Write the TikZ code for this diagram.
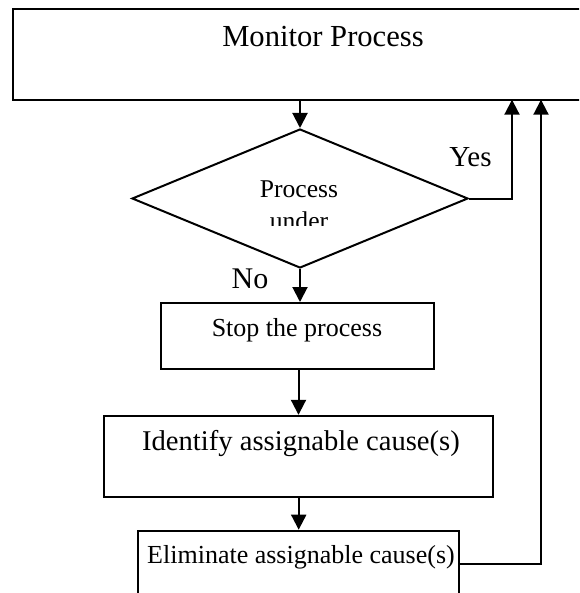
\documentclass[tikz,border=0pt]{standalone}
\usepackage{fontspec}
\setmainfont{Liberation Serif}
\usetikzlibrary{arrows.meta,shapes.geometric}
\begin{document}
\begin{tikzpicture}[x=0.5pt,y=-0.5pt,
  box/.style={draw,line width=1pt,inner sep=0pt,rectangle},
  dec/.style={draw,line width=1pt,inner sep=0pt,diamond},
  lbl/.style={inner sep=0pt,anchor=base},
  arr/.style={line width=1pt,-{Triangle[width=7.5pt,length=7.5pt]}},
  conn/.style={line width=1pt}]
\clip (0,0) rectangle (579,593);
\fill[white] (0,0) rectangle (579,593);
% boxes
\node[box,minimum width=293.5pt,minimum height=45.5pt] (mon) at (306.5,54.3) {};
\node[lbl,font=\fontsize{15.3}{18}\selectfont] (montxt) at (323,46.7) {Monitor Process};
\node[dec,minimum width=168pt,minimum height=69.5pt] (dia) at (300,198.5) {};
\begin{scope}
\clip (130,150) rectangle (470,225);
\node[lbl,font=\fontsize{12.8}{14.7}\selectfont] (diatxt) at (299,198) {Process};
\node[lbl,font=\fontsize{12.8}{14.7}\selectfont] (diatxt2) at (299,229) {under};
\end{scope}
\node[box,minimum width=136.5pt,minimum height=33pt] (stop) at (297.5,336) {};
\node[lbl,font=\fontsize{13}{15}\selectfont] (stoptxt) at (297,336) {Stop the process};
\node[box,minimum width=194.5pt,minimum height=40.5pt] (ident) at (298.7,456.3) {};
\node[lbl,font=\fontsize{14.3}{17}\selectfont] (identtxt) at (301,450.7) {Identify assignable cause(s)};
\node[box,minimum width=160.5pt,minimum height=45pt] (elim) at (298.8,575.7) {};
\node[lbl,font=\fontsize{13}{15}\selectfont] (elimtxt) at (301,563) {Eliminate assignable cause(s)};
% labels
\node[lbl,font=\fontsize{14.5}{17}\selectfont] (yes) at (470.5,167) {Yes};
\node[lbl,font=\fontsize{15}{18}\selectfont] (no) at (250,288) {No};
% connector coordinates
\coordinate (yestop) at (512,99.7);
\coordinate (elimtop) at (541,99.7);
\coordinate (elimout) at (459.3,564);
% connectors
\draw[arr] (dia.north |- mon.south) -- (dia.north);
\draw[arr] (dia.south) -- (dia.south |- stop.north);
\draw[arr] (298.5,0 |- stop.south) -- (298.5,0 |- ident.north);
\draw[arr] (ident.south) -- (ident.south |- elim.north);
\draw[arr] (dia.east) -| (yestop);
\draw[arr] (elimout) -| (elimtop);
\end{tikzpicture}
\end{document}
